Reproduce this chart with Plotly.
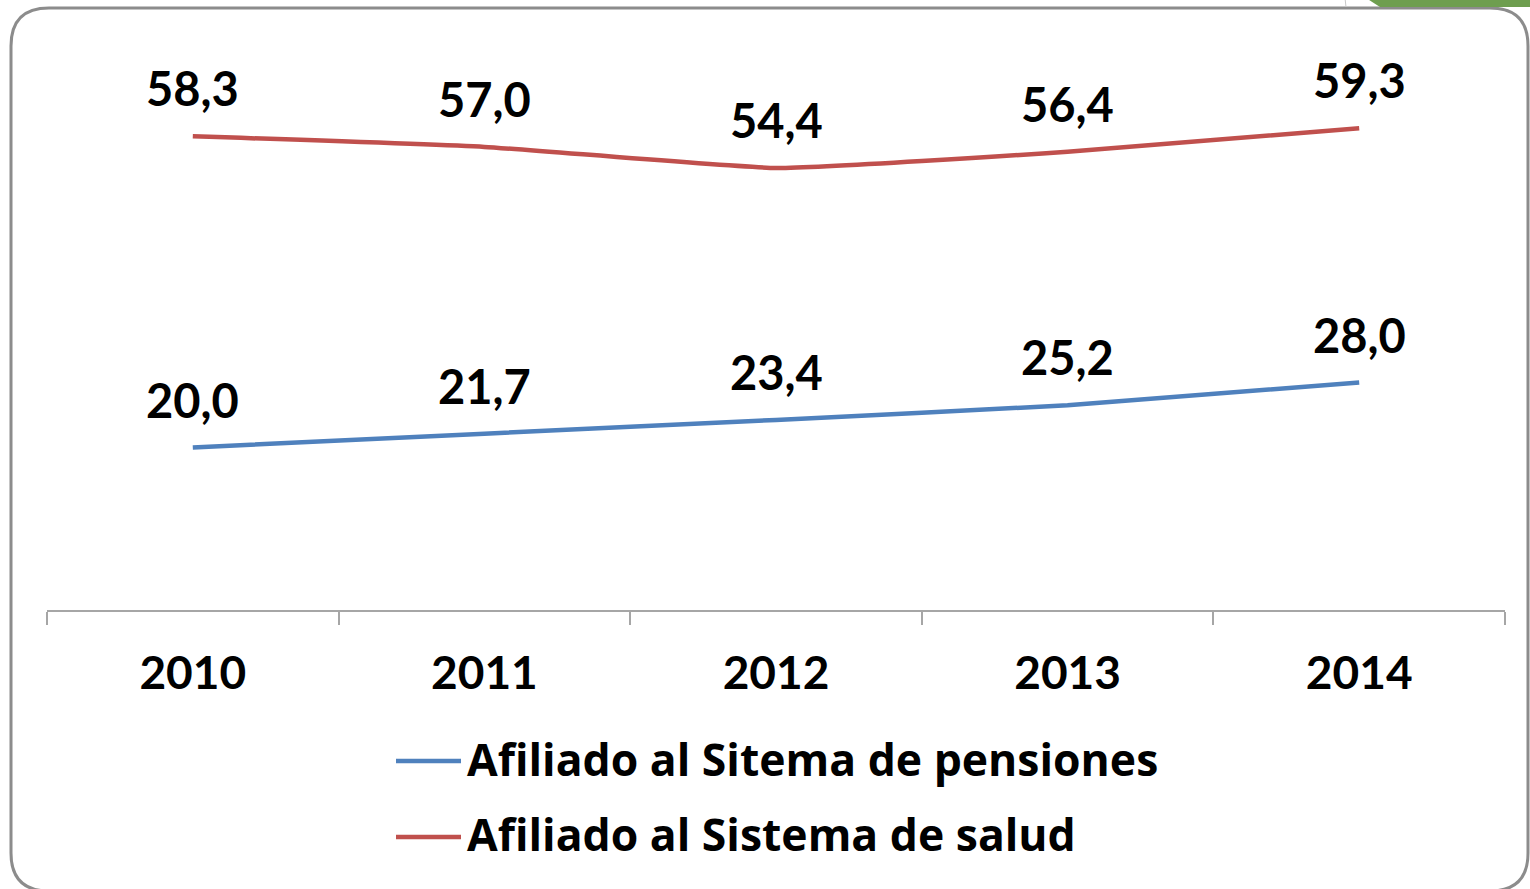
import plotly.graph_objects as go

years = ["2010", "2011", "2012", "2013", "2014"]
pensiones = [20.0, 21.7, 23.4, 25.2, 28.0]
salud = [58.3, 57.0, 54.4, 56.4, 59.3]
name_pen = "Afiliado al Sitema de pensiones"
name_sal = "Afiliado al Sistema de salud"

BLUE = "#4F81BD"
RED = "#C0504D"
FONT = "Lato"
LFONT = "Open Sans"

W, H = 1530, 889
L, R, T, B = 47, 25, 40, 279
PW, PH = W - L - R, H - T - B


def px(x):
    return (x - L) / PW


def py(y):
    return (H - B - y) / PH


def fmt(v):
    return f"{v:.1f}".replace(".", ",")


fig = go.Figure()
for vals, col, nm in [(pensiones, BLUE, name_pen), (salud, RED, name_sal)]:
    fig.add_trace(go.Scatter(
        x=years, y=vals, mode="lines", name=nm,
        line=dict(color=col, width=4.5, shape="spline", smoothing=0.4),
        showlegend=False, hoverinfo="skip"))

annotations = []
for vals in (pensiones, salud):
    for i, v in enumerate(vals):
        annotations.append(dict(
            x=i, y=v, xref="x", yref="y", text=fmt(v), showarrow=False,
            yshift=48, xanchor="center", yanchor="middle",
            font=dict(family=FONT, size=47, color="#000000", weight="bold")))

# manual legend
shapes = []
for ypix, col, nm in [(761, BLUE, name_pen), (837, RED, name_sal)]:
    shapes.append(dict(type="line", xref="paper", yref="paper",
                       x0=px(396), x1=px(461), y0=py(ypix), y1=py(ypix),
                       line=dict(color=col, width=4.5)))
    annotations.append(dict(x=px(465), y=py(ypix - 3), xref="paper", yref="paper",
                            text=nm, showarrow=False, xanchor="left", yanchor="middle",
                            font=dict(family=LFONT, size=44.5, color="#000000", weight="bold")))

# rounded frame
x0, y0, x1, y1, r = 11, 8, 1528, 891, 38


def P(x, y):
    return f"{px(x):.6f},{py(y):.6f}"


path = (f"M {P(x0 + r, y0)} L {P(x1 - r, y0)} Q {P(x1, y0)} {P(x1, y0 + r)} "
        f"L {P(x1, y1 - r)} Q {P(x1, y1)} {P(x1 - r, y1)} "
        f"L {P(x0 + r, y1)} Q {P(x0, y1)} {P(x0, y1 - r)} "
        f"L {P(x0, y0 + r)} Q {P(x0, y0)} {P(x0 + r, y0)} Z")
shapes.append(dict(type="path", xref="paper", yref="paper", path=path,
                   line=dict(color="#8C8C8C", width=3), fillcolor="rgba(0,0,0,0)",
                   layer="below"))
# green decoration top right
gpath = f"M {P(1366, -2)} L {P(1532, -2)} L {P(1532, 7)} L {P(1380, 7)} Z"
shapes.append(dict(type="path", xref="paper", yref="paper", path=gpath,
                   line=dict(width=0), fillcolor="#6E9E4F", layer="above"))
shapes.append(dict(type="line", xref="paper", yref="paper",
                   x0=px(1345), x1=px(1346), y0=py(-2), y1=py(7),
                   line=dict(color="#C8C8C8", width=1)))

fig.update_layout(
    width=W, height=H,
    margin=dict(l=L, r=R, t=T, b=B),
    paper_bgcolor="white", plot_bgcolor="white",
    showlegend=False,
    annotations=annotations, shapes=shapes,
    xaxis=dict(type="category", range=[-0.5, 4.5], showgrid=False, zeroline=False,
               showline=True, linecolor="#A6A6A6", linewidth=2,
               ticks="outside", tickson="boundaries", ticklen=13, tickwidth=2,
               tickcolor="#A6A6A6", ticklabelstandoff=22,
               tickfont=dict(family=FONT, size=46, color="#000000", weight="bold")),
    yaxis=dict(range=[0, PH / 8.125], visible=False, showgrid=False, zeroline=False),
)

fig.write_html("out.html", config={"displayModeBar": False},
               post_script="document.body.style.margin='0';document.body.style.overflow='hidden';")
